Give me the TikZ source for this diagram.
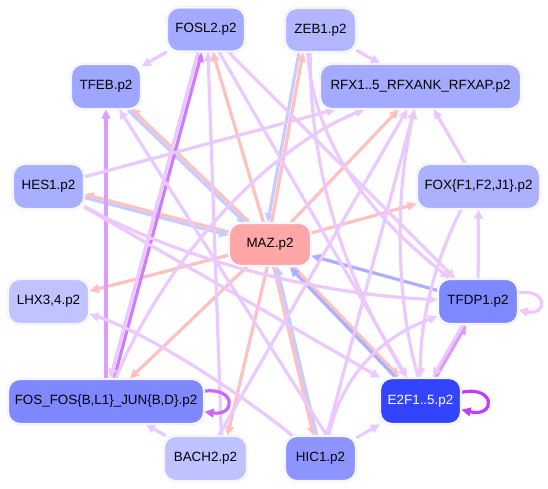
\documentclass[tikz,border=0pt]{standalone}
\usepackage{fontspec}
\setmainfont{Liberation Sans}
\usetikzlibrary{arrows.meta,backgrounds}
\definecolor{nodeline}{HTML}{E2E4FF}
\definecolor{cFOSL}{HTML}{A4AAFF}
\definecolor{cTFEB}{HTML}{9FA6FF}
\definecolor{cHES}{HTML}{A9AFFF}
\definecolor{cZEB}{HTML}{B2B6FF}
\definecolor{cRFX}{HTML}{A4AAFF}
\definecolor{cFOX}{HTML}{ABB0FF}
\definecolor{cMAZ}{HTML}{FFA6A6}
\definecolor{cLHX}{HTML}{C0C3FF}
\definecolor{cFOS}{HTML}{7F88FF}
\definecolor{cBACH}{HTML}{BEC2FF}
\definecolor{cTFDP}{HTML}{7F89FF}
\definecolor{cE2F}{HTML}{3344FF}
\definecolor{cHIC}{HTML}{8D94FF}
\definecolor{lpur}{HTML}{EBC9FF}
\definecolor{pinkE}{HTML}{FFC0C0}
\definecolor{lblue}{HTML}{C7CCFF}
\definecolor{bblue}{HTML}{A9B0FF}
\definecolor{mpur}{HTML}{DB9EFF}
\definecolor{dpur}{HTML}{CF7BFF}
\definecolor{floop}{HTML}{CC66FF}
\definecolor{eloop}{HTML}{C03DFF}
\definecolor{etp}{HTML}{DD99FF}
\begin{document}
\begin{tikzpicture}[x=1pt,y=-1pt,
  tf/.style={rounded corners=12pt, draw=nodeline, line width=0.5pt, double=white,
    double distance=1.2pt, minimum height=45pt, inner sep=0pt,
    font=\fontsize{13.4}{15}\selectfont, text=black},
  ed/.style={line width=3.2pt, -{Triangle[length=9.5pt,width=8.5pt]}},
  lp/.style={ed, color=lpur},
  pk/.style={ed, color=pinkE},
  lb/.style={ed, color=lblue},
  bb/.style={ed, color=bblue}]
\useasboundingbox (0,0) rectangle (548,489);

\node[tf, fill=cFOSL, minimum width=78pt, minimum height=44pt] (fosl2) at (206,29.5) {FOSL2.p2};
\node[tf, fill=cTFEB, minimum width=70pt] (tfeb) at (106,86.5) {TFEB.p2};
\node[tf, fill=cHES, minimum width=71pt] (hes1) at (48.5,186.5) {HES1.p2};
\node[tf, fill=cZEB, minimum width=71pt, minimum height=44pt] (zeb1) at (320.5,30) {ZEB1.p2};
\node[tf, fill=cRFX, minimum width=201pt] (rfx) at (420.5,86.5) {RFX1..5\_RFXANK\_RFXAP.p2};
\node[tf, fill=cFOX, minimum width=123pt] (fox) at (478.5,186.5) {FOX\{F1,F2,J1\}.p2};
\node[tf, fill=cMAZ, minimum width=82pt, minimum height=43pt] (maz) at (270,244.5) {MAZ.p2};
\node[tf, fill=cLHX, minimum width=81pt] (lhx) at (48.5,301.5) {LHX3,4.p2};
\node[tf, fill=cFOS, minimum width=196pt] (fos) at (106,401.5) {FOS\_FOS\{B,L1\}\_JUN\{B,D\}.p2};
\node[tf, fill=cBACH, minimum width=83pt] (bach2) at (205.5,458.5) {BACH2.p2};
\node[tf, fill=cTFDP, minimum width=80pt] (tfdp1) at (478,301.5) {TFDP1.p2};
\node[tf, fill=cE2F, minimum width=81pt, minimum height=46pt, text=white] (e2f) at (420.5,401) {E2F1..5.p2};
\node[tf, fill=cHIC, minimum width=71pt] (hic1) at (320.5,458.5) {HIC1.p2};

\begin{pgfonlayer}{background}
\fill[white] (0,0) rectangle (548,489);
% MAZ pairs and MAZ targets
\draw[pk, transform canvas={shift={(1.2,-1.2)}}] (maz) -- (tfeb);
\draw[lb, transform canvas={shift={(-1.2,1.2)}}] (tfeb) -- (maz);
\draw[pk, transform canvas={shift={(0,-1.6)}}] (maz) -- (hes1);
\draw[lb, transform canvas={shift={(0,1.6)}}] (hes1) -- (maz);
\draw[lb] (zeb1.226) -- (maz.96);
\draw[pk] (maz.86) -- (zeb1.232);
\draw[pk, transform canvas={shift={(-1.5,0.35)}}] (maz) -- (hic1);
\draw[lb, transform canvas={shift={(1.5,-0.35)}}] (hic1) -- (maz);
\draw[pk, transform canvas={shift={(1.1,-1.05)}}] (maz) -- (e2f);
\draw[bb, transform canvas={shift={(-1.1,1.05)}}] (e2f) -- (maz);
\draw[pk] (maz) -- (fosl2);
\draw[pk] (maz) -- (rfx);
\draw[pk] (maz) -- (fox);
\draw[pk] (maz) -- (lhx);
\draw[pk] (maz) -- (fos);
\draw[pk] (maz.-97) -- (bach2.46);
\draw[bb] (tfdp1) -- (maz);
% other edges
\draw[lp] (fosl2) -- (tfeb);
\draw[lp] (zeb1) -- (rfx);
\draw[lp] (fox) -- (rfx);
\draw[ed, color=mpur] (fos) -- (tfeb);
\draw[ed, color=dpur, transform canvas={shift={(1.8,0.5)}}] (fos) -- (fosl2);
\draw[lp, transform canvas={shift={(-1.8,-0.5)}}] (fosl2) -- (fos);
\draw[lp] (bach2.55) -- (fosl2.-85);
\draw[lp] (bach2) -- (fos);
\draw[lp] (hes1) -- (rfx);
\draw[lp] (hes1) -- (e2f);
\draw[lp] (hes1) .. controls (190,265) and (330,295) .. (tfdp1);
\draw[lp] (hic1.74) -- (tfeb.-60);
\draw[lp] (hic1) .. controls (230,385) and (140,330) .. (lhx);
\draw[lp] (hic1) -- (e2f);
\draw[lp] (hic1.70) .. controls (345,360) and (400,330) .. (tfdp1);
\draw[lp] (hic1) -- (rfx);
\draw[lp] (bach2) -- (rfx);
\draw[lp] (fos) .. controls (165,260) and (265,150) .. (rfx);
\draw[lp] (fosl2) -- (tfdp1);
\draw[lp] (fosl2) -- (e2f);
\draw[lp] (zeb1.240) .. controls (315,160) and (390,230) .. (tfdp1);
\draw[lp] (zeb1.245) .. controls (310,200) and (360,300) .. (e2f);
\draw[lp] (tfdp1) -- (fox);
\draw[lp] (fox.-127) .. controls (435,260) and (420,320) .. (e2f);
\draw[lp] (e2f.95) .. controls (395,300) and (395,190) .. (rfx);
\draw[ed, color=etp, transform canvas={shift={(1.3,0.75)}}] (e2f) -- (tfdp1);
\draw[lp, transform canvas={shift={(-1.3,-0.75)}}] (tfdp1) -- (e2f);
% self loops
\draw[lp] (tfdp1.12) .. controls (548,288) and (548,316) .. (tfdp1.-12);
\draw[ed, color=eloop] (e2f.12) .. controls (496,385) and (496,418) .. (e2f.-12);
\draw[ed, color=floop] (fos.6) .. controls (236,387) and (236,416) .. (fos.-6);
\end{pgfonlayer}
\end{tikzpicture}
\end{document}
